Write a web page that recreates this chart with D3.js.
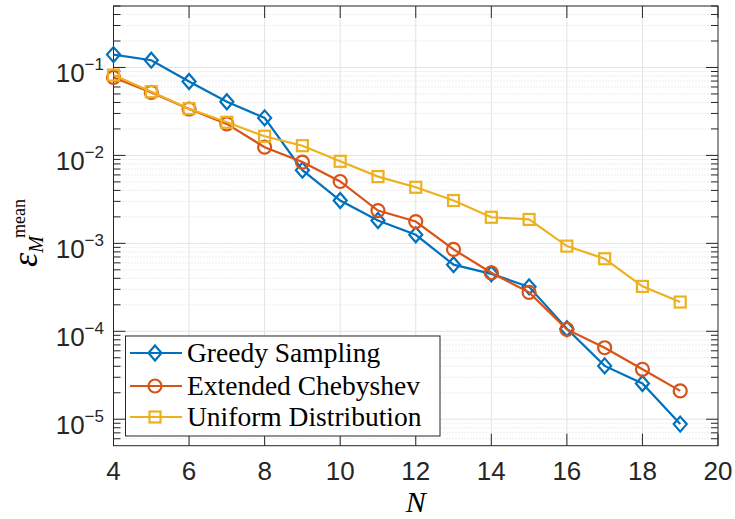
<!DOCTYPE html>
<html>
<head>
<meta charset="utf-8">
<script src="https://cdn.jsdelivr.net/npm/d3@7"></script>
<style>
  body { margin: 0; background: #fff; }
  svg { display: block; }
</style>
</head>
<body>
<div id="chart"></div>
<script>
// data
var nValues = [4, 5, 6, 7, 8, 9, 10, 11, 12, 13, 14, 15, 16, 17, 18, 19];
var greedy = [0.14, 0.121, 0.0693, 0.0408, 0.0267, 0.0068, 0.00307, 0.00182, 0.00125, 0.000572, 0.00045, 0.00032, 0.000107, 4.04e-5, 2.55e-5, 8.8e-6];
var chebyshev = [0.077, 0.052, 0.0337, 0.0228, 0.0124, 0.0084, 0.00505, 0.00236, 0.00177, 0.000853, 0.000463, 0.000277, 0.000105, 6.5e-5, 3.7e-5, 2.1e-5];
var uniform = [0.082, 0.053, 0.034, 0.0238, 0.0165, 0.0129, 0.00857, 0.00574, 0.00434, 0.00307, 0.00198, 0.00187, 0.00093, 0.000668, 0.000324, 0.000215];
var seriesNames = ["Greedy Sampling", "Extended Chebyshev", "Uniform Distribution"];
var xTicks = [4, 6, 8, 10, 12, 14, 16, 18, 20];
var yExponents = [-1, -2, -3, -4, -5];

var width = 735, height = 519;
var axLeft = 113.5, axRight = 718, axTop = 6, axBottom = 445.7;
var axisColor = "#262626";
var colors = ["#0072BD", "#D95319", "#EDB120"];
var markers = ["diamond", "circle", "square"];

var svg = d3.select("#chart").append("svg")
    .attr("width", width)
    .attr("height", height);

var x = d3.scaleLinear().domain([4, 20]).range([axLeft, axRight]);
var y = d3.scaleLog().domain([5e-6, 0.5]).range([axBottom, axTop]);

// minor ticks 2..9 x 10^k inside the domain
var minorVals = [];
[-6, -5, -4, -3, -2, -1].forEach(function(e) {
  for (var m = 2; m <= 9; m++) {
    var v = m * Math.pow(10, e);
    if (v >= 5e-6 && v <= 0.5) minorVals.push(v);
  }
});
var majorVals = yExponents.map(function(e) { return Math.pow(10, e); });

// grid
var grid = svg.append("g");
grid.selectAll(".minor").data(minorVals).enter().append("line")
    .attr("x1", axLeft).attr("x2", axRight)
    .attr("y1", function(d) { return y(d); }).attr("y2", function(d) { return y(d); })
    .attr("stroke", "#d4d4d4").attr("stroke-width", 0.8)
    .attr("stroke-dasharray", "1,2");
grid.selectAll(".major").data(majorVals).enter().append("line")
    .attr("x1", axLeft).attr("x2", axRight)
    .attr("y1", function(d) { return y(d); }).attr("y2", function(d) { return y(d); })
    .attr("stroke", "#e3e3e3").attr("stroke-width", 1);
grid.selectAll(".xg").data(xTicks.slice(1, -1)).enter().append("line")
    .attr("x1", function(d) { return x(d); }).attr("x2", function(d) { return x(d); })
    .attr("y1", axTop).attr("y2", axBottom)
    .attr("stroke", "#e3e3e3").attr("stroke-width", 1);

// axes box and ticks
var ax = svg.append("g").attr("stroke", axisColor).attr("stroke-width", 1);
ax.append("rect")
    .attr("x", axLeft).attr("y", axTop)
    .attr("width", axRight - axLeft).attr("height", axBottom - axTop)
    .attr("fill", "none");
xTicks.forEach(function(t) {
  ax.append("line").attr("x1", x(t)).attr("x2", x(t)).attr("y1", axBottom).attr("y2", axBottom - 12);
  ax.append("line").attr("x1", x(t)).attr("x2", x(t)).attr("y1", axTop).attr("y2", axTop + 12);
});
majorVals.forEach(function(v) {
  ax.append("line").attr("x1", axLeft).attr("x2", axLeft + 12).attr("y1", y(v)).attr("y2", y(v));
  ax.append("line").attr("x1", axRight).attr("x2", axRight - 12).attr("y1", y(v)).attr("y2", y(v));
});
minorVals.forEach(function(v) {
  ax.append("line").attr("x1", axLeft).attr("x2", axLeft + 7).attr("y1", y(v)).attr("y2", y(v));
  ax.append("line").attr("x1", axRight).attr("x2", axRight - 7).attr("y1", y(v)).attr("y2", y(v));
});

// tick labels
svg.append("g").selectAll("text").data(xTicks).enter().append("text")
    .attr("x", function(d) { return x(d); })
    .attr("y", 479.5)
    .attr("text-anchor", "middle")
    .attr("font-family", "Liberation Sans, Arial, sans-serif")
    .attr("font-size", 26)
    .attr("fill", axisColor)
    .text(function(d) { return d; });

var yl = svg.append("g").selectAll("text").data(yExponents).enter().append("text")
    .attr("x", axLeft - 9.5)
    .attr("y", function(d) { return y(Math.pow(10, d)) + 14.5; })
    .attr("text-anchor", "end")
    .attr("font-family", "Liberation Sans, Arial, sans-serif")
    .attr("font-size", 26)
    .attr("fill", axisColor);
yl.append("tspan").text("10");
yl.append("tspan")
    .attr("font-size", 17)
    .attr("dy", -12)
    .text(function(d) { return "\u2212" + Math.abs(d); });

// series
var seriesData = [greedy, chebyshev, uniform];
var line = d3.line()
    .x(function(d) { return x(d.n); })
    .y(function(d) { return y(d.v); });

function drawMarker(g, type, color) {
  if (type === "diamond") {
    g.append("path").attr("d", "M0,-7.5L6.5,0L0,7.5L-6.5,0Z");
  } else if (type === "circle") {
    g.append("circle").attr("r", 6.5);
  } else {
    g.append("rect").attr("x", -5.5).attr("y", -5.5).attr("width", 11).attr("height", 11);
  }
  g.selectAll("*").attr("fill", "none").attr("stroke", color).attr("stroke-width", 2.2);
}

seriesData.forEach(function(vals, i) {
  var pts = nValues.map(function(n, j) { return {n: n, v: vals[j]}; });
  var g = svg.append("g");
  g.append("path")
      .datum(pts)
      .attr("d", line)
      .attr("fill", "none")
      .attr("stroke", colors[i])
      .attr("stroke-width", 2.2);
  pts.forEach(function(p) {
    var m = g.append("g").attr("transform", "translate(" + x(p.n) + "," + y(p.v) + ")");
    drawMarker(m, markers[i], colors[i]);
  });
});

// legend
var leg = svg.append("g");
leg.append("rect")
    .attr("x", 125.5).attr("y", 336)
    .attr("width", 314.5).attr("height", 100)
    .attr("fill", "#fff")
    .attr("stroke", axisColor).attr("stroke-width", 1);
var rowY = [353, 386, 417];
seriesNames.forEach(function(name, i) {
  leg.append("line")
      .attr("x1", 130).attr("x2", 182)
      .attr("y1", rowY[i]).attr("y2", rowY[i])
      .attr("stroke", colors[i]).attr("stroke-width", 2.2);
  var m = leg.append("g").attr("transform", "translate(155," + rowY[i] + ")");
  drawMarker(m, markers[i], colors[i]);
  leg.append("text")
      .attr("x", 187)
      .attr("y", rowY[i] + 9)
      .attr("font-family", "Liberation Serif, Times New Roman, serif")
      .attr("font-size", 27.5)
      .attr("fill", "#000")
      .text(name);
});

// axis labels
svg.append("text")
    .attr("x", (axLeft + axRight) / 2)
    .attr("y", 512)
    .attr("text-anchor", "middle")
    .attr("font-family", "Liberation Serif, Times New Roman, serif")
    .attr("font-style", "italic")
    .attr("font-size", 30)
    .attr("fill", "#000")
    .text("N");

var ylab = svg.append("text")
    .attr("transform", "translate(37,233) rotate(-90)")
    .attr("text-anchor", "middle")
    .attr("font-family", "Liberation Serif, Times New Roman, serif")
    .attr("fill", "#000");
ylab.append("tspan").attr("font-style", "italic").attr("font-size", 36).text("\u03b5");
ylab.append("tspan").attr("font-style", "italic").attr("font-size", 20).attr("dy", 6).text("M");
ylab.append("tspan").attr("font-size", 18).attr("dx", -2).attr("dy", -18).text("mean");
</script>
</body>
</html>
